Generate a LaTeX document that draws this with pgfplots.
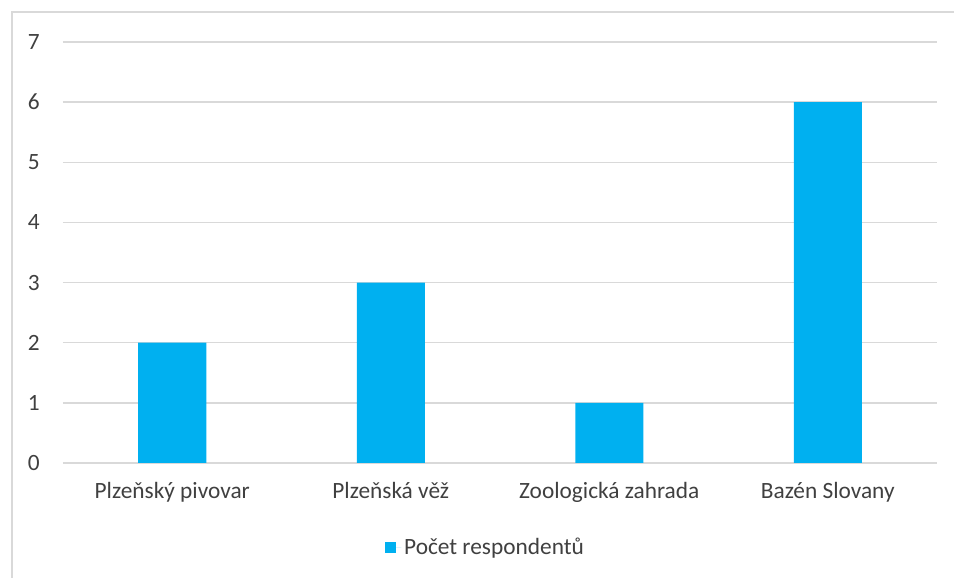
\documentclass[border=0pt]{standalone}
\usepackage{pgfplots}
\pgfplotsset{compat=1.18}
\usepackage{fontspec}
\setmainfont{Carlito}
\definecolor{barblue}{HTML}{00B0F0}
\definecolor{txt}{HTML}{404040}
\definecolor{gridc}{HTML}{D9D9D9}
\begin{document}
\begin{tikzpicture}[x=0.75pt,y=0.75pt]
\useasboundingbox (0,0) rectangle (954,578);
\draw[gridc, line width=0.8pt] (12,0) -- (12,566) -- (954,566);
\begin{axis}[
  at={(63*0.75pt,115*0.75pt)}, anchor=south west,
  scale only axis, width=874*0.75pt, height=421*0.75pt,
  xmin=-0.5, xmax=3.5, ymin=0, ymax=7,
  ybar, bar width=51pt,
  axis line style={draw=none},
  major tick length=0pt,
  ytick={0,1,...,7},
  ymajorgrids, major grid style={gridc, line width=1pt},
  xtick=data,
  xticklabels={Plzeňský pivovar, Plzeňská věž, Zoologická zahrada, Bazén Slovany},
  tick label style={font=\fontsize{17.5}{19}\selectfont, text=txt},
  /pgf/number format/assume math mode=true,
  yticklabel style={xshift=-14pt},
  xticklabel style={yshift=-11pt},
  legend style={at={(0.484,-0.2)}, anchor=center, draw=none, font=\fontsize{17.5}{19}\selectfont, text=txt},
  legend image code/.code={\path (0pt,0pt) -- (12pt,0pt); \fill[barblue] (0pt,-4pt) rectangle (8pt,4pt);},
]
\addplot[fill=barblue, draw=none] coordinates {(0,2) (1,3) (2,1) (3,6)};
\legend{Počet respondentů}
\end{axis}
\end{tikzpicture}
\end{document}
